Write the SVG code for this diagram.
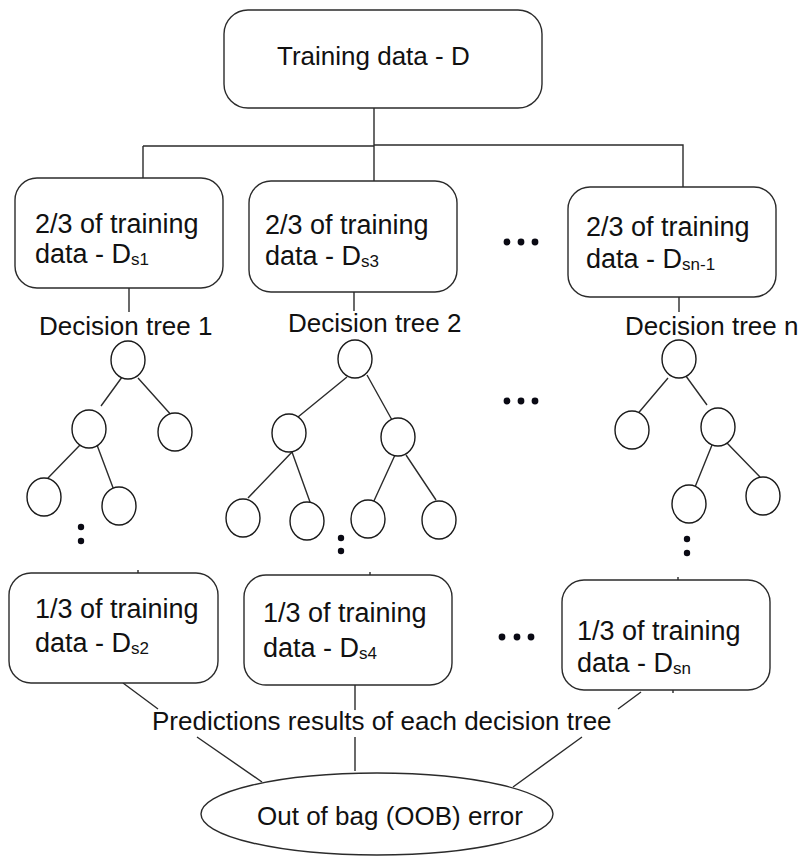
<svg xmlns="http://www.w3.org/2000/svg" width="800" height="857" viewBox="0 0 800 857">
<style>
.box{fill:#fff;stroke:#2b2b2b;stroke-width:1.4}
.ln{fill:none;stroke:#2b2b2b;stroke-width:1.4}
.nd{fill:#fff;stroke:#1a1a1a;stroke-width:1.4}
.t{font-family:"Liberation Sans",Arial,sans-serif;font-size:26px;fill:#111}
.tb{font-family:"Liberation Sans",Arial,sans-serif;font-size:27px;fill:#111}
.sub{font-size:17px}
.dot{fill:#0a0a14}
</style>
<rect width="800" height="857" fill="#fff"/>
<g id="connectors">
<path class="ln" d="M374,108 V182 M143,146 H374 M374,145 H683 V187 M143,146 V178"/>
<path class="ln" d="M129,288 V312 M354,292 V311 M679,297 V312"/>
<!-- tree 1 -->
<path class="ln" d="M125,373 L101,406 M138,378 L173,417 M80,445 L48,478 M97,445 L115,493"/>
<!-- tree 2 -->
<path class="ln" d="M347,377 L298,417 M367,375 L392,420 M292,452 L248,498 M292,452 L310,502 M395,455 L373,503 M406,455 L436,500"/>
<!-- tree n -->
<path class="ln" d="M668,378 L635,417 M683,372 L707,405 M712,445 L693,492 M727,443 L760,477"/>
<!-- ticks -->
<path class="ln" d="M138,570 V573 M370,572 V575 M678,577 V580 M673,690 V693"/>
<!-- to OOB -->
<path class="ln" d="M123,683 L158,709 M197,737 L262,782 M355,685 V710 M355,737 V771 M641,692 L618,709 M582,737 L513,787"/>
</g>
<g id="training-data">
<rect class="box" x="224" y="10" width="318" height="98" rx="24"/>
<text class="t" x="277" y="65">Training data - D</text>
</g>
<g id="train-1">
<rect class="box" x="15" y="178" width="208" height="110" rx="22"/>
<text class="tb" x="35" y="233">2/3 of training</text>
<text class="tb" x="35" y="263">data - D<tspan class="sub" dy="2">s1</tspan></text>
</g>
<g id="train-2">
<rect class="box" x="249" y="181" width="208" height="111" rx="22"/>
<text class="tb" x="265" y="234">2/3 of training</text>
<text class="tb" x="265" y="265">data - D<tspan class="sub" dy="2">s3</tspan></text>
</g>
<g id="train-n">
<rect class="box" x="568" y="187" width="208" height="110" rx="22"/>
<text class="tb" x="586" y="236">2/3 of training</text>
<text class="tb" x="586" y="268">data - D<tspan class="sub" dy="2">sn-1</tspan></text>
</g>
<g id="dots-row1"><circle class="dot" cx="507" cy="242" r="3.4"/><circle class="dot" cx="521" cy="242" r="3.4"/><circle class="dot" cx="535" cy="242" r="3.4"/></g>
<g id="label-tree-1"><text class="t" x="39" y="335">Decision tree 1</text></g>
<g id="label-tree-2"><text class="t" x="288" y="332">Decision tree 2</text></g>
<g id="label-tree-n"><text class="t" x="625" y="335">Decision tree n</text></g>
<g id="tree-1">
<ellipse class="nd" cx="128" cy="360" rx="17" ry="19"/>
<ellipse class="nd" cx="89" cy="429" rx="17" ry="19"/>
<ellipse class="nd" cx="175" cy="432" rx="17" ry="19"/>
<ellipse class="nd" cx="44" cy="497" rx="17" ry="19"/>
<ellipse class="nd" cx="119" cy="506" rx="17" ry="19"/>
<circle class="dot" cx="81" cy="527" r="3.2"/><circle class="dot" cx="81" cy="541" r="3.2"/>
</g>
<g id="tree-2">
<ellipse class="nd" cx="355" cy="359" rx="17" ry="19"/>
<ellipse class="nd" cx="289" cy="433" rx="17" ry="19"/>
<ellipse class="nd" cx="398" cy="437" rx="17" ry="19"/>
<ellipse class="nd" cx="243" cy="518" rx="17" ry="19"/>
<ellipse class="nd" cx="307" cy="521" rx="17" ry="19"/>
<ellipse class="nd" cx="368" cy="519" rx="17" ry="19"/>
<ellipse class="nd" cx="439" cy="520" rx="17" ry="19"/>
<circle class="dot" cx="341" cy="538" r="3.2"/><circle class="dot" cx="341" cy="551" r="3.2"/>
</g>
<g id="dots-row2"><circle class="dot" cx="507" cy="401" r="3.4"/><circle class="dot" cx="521" cy="401" r="3.4"/><circle class="dot" cx="535" cy="401" r="3.4"/></g>
<g id="tree-n">
<ellipse class="nd" cx="679" cy="359" rx="17" ry="19"/>
<ellipse class="nd" cx="632" cy="430" rx="17" ry="19"/>
<ellipse class="nd" cx="718" cy="427" rx="17" ry="19"/>
<ellipse class="nd" cx="689" cy="504" rx="17" ry="19"/>
<ellipse class="nd" cx="763" cy="496" rx="17" ry="19"/>
<circle class="dot" cx="687" cy="539" r="3.2"/><circle class="dot" cx="687" cy="553" r="3.2"/>
</g>
<g id="oob-1">
<rect class="box" x="9" y="573" width="209" height="110" rx="22"/>
<text class="tb" x="35" y="618">1/3 of training</text>
<text class="tb" x="35" y="652">data - D<tspan class="sub" dy="2">s2</tspan></text>
</g>
<g id="oob-2">
<rect class="box" x="244" y="575" width="208" height="110" rx="22"/>
<text class="tb" x="263" y="622">1/3 of training</text>
<text class="tb" x="263" y="657">data - D<tspan class="sub" dy="2">s4</tspan></text>
</g>
<g id="oob-n">
<rect class="box" x="562" y="580" width="208" height="110" rx="22"/>
<text class="tb" x="577" y="640">1/3 of training</text>
<text class="tb" x="577" y="672">data - D<tspan class="sub" dy="2">sn</tspan></text>
</g>
<g id="dots-row3"><circle class="dot" cx="502" cy="637" r="3.4"/><circle class="dot" cx="517" cy="637" r="3.4"/><circle class="dot" cx="531" cy="637" r="3.4"/></g>
<g id="predictions-label"><text class="t" x="152" y="730">Predictions results of each decision tree</text></g>
<g id="oob-error">
<ellipse class="box" cx="377" cy="814" rx="176" ry="41"/>
<text class="t" x="257" y="825">Out of bag (OOB) error</text>
</g>
</svg>
